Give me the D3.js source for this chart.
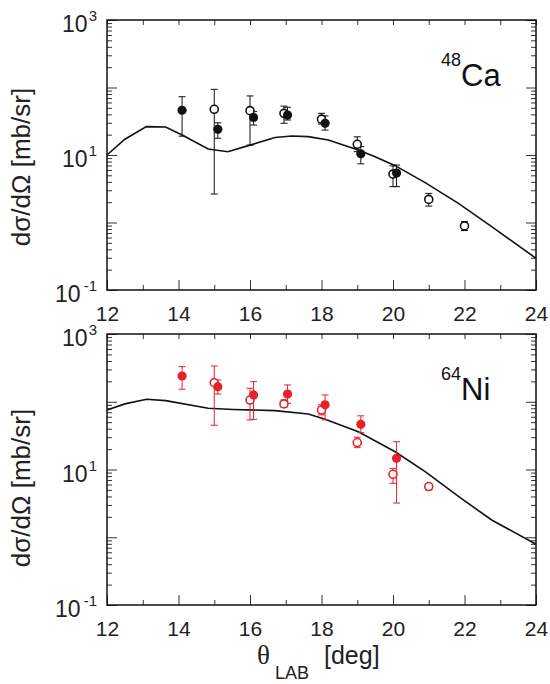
<!DOCTYPE html>
<html>
<head>
<meta charset="utf-8">
<script src="https://cdn.jsdelivr.net/npm/d3@7"></script>
<style>
  body { margin: 0; background: #fff; }
  svg { display: block; font-family: "Liberation Sans", Arial, Helvetica, sans-serif; }
</style>
</head>
<body>
<div class="chart"></div>
<script>
// x axis (theta_LAB, deg)
const thetaMajorTicks = [12, 14, 16, 18, 20, 22, 24];
const thetaMinorTicks = [13, 15, 17, 19, 21, 23];

// y axis (dsigma/dOmega, mb/sr)
const sigmaMajorTicks = [0.1, 1, 10, 100, 1000];
const sigmaLabels = [
    { value: 1000, exp: '3' },
    { value: 10, exp: '1' },
    { value: 0.1, exp: '-1' }
];

// points are [theta, value, errLow, errHigh]
const caFilled = [
    [14.1, 46, 19, 73],
    [15.1, 24, 17.7, 30],
    [16.1, 36, 27.8, 44],
    [17.05, 39, 33, 51],
    [18.1, 29.5, 23.4, 38],
    [19.1, 10.4, 7.4, 13.3],
    [20.1, 5.4, 3.4, 7.1]
];
const caOpen = [
    [15.0, 47.5, 2.64, 94],
    [16.0, 45.4, 14, 75],
    [16.95, 41.4, 29.5, 53],
    [18.0, 34, 28.8, 41.5],
    [19.0, 14.4, 11.2, 18.6],
    [20.0, 5.2, 3.4, 6.9],
    [21.0, 2.2, 1.75, 2.7],
    [22.0, 0.89, 0.76, 1.03]
];
const caCalc = [
    [12.0, 10.0], [12.5, 17.1], [13.1, 26.3], [13.64, 26], [14.1, 19.8],
    [14.83, 12.3], [15.38, 11.2], [16.0, 14], [16.7, 18.2], [17.17, 19.1],
    [17.63, 18.7], [18.19, 16.7], [19.03, 11.9], [19.5, 9.4], [20.06, 6.95],
    [20.9, 3.9], [21.83, 1.92], [22.76, 0.87], [24.0, 0.295]
];

const niFilled = [
    [14.1, 240, 153, 330],
    [15.1, 167, 130, 210],
    [16.1, 126, 55, 198],
    [17.05, 130, 95, 177],
    [18.1, 90, 54, 126],
    [19.1, 46.5, 35, 62],
    [20.1, 14.6, 3.2, 25.7]
];
const niOpen = [
    [15.0, 191, 45, 337],
    [16.0, 106, 54, 158],
    [16.95, 93, 83, 106],
    [18.0, 75.5, 64, 90],
    [19.0, 25, 21, 30],
    [20.0, 8.5, 6.25, 10.4],
    [21.0, 5.6, 5.0, 6.2]
];
const niCalc = [
    [12.0, 75.5], [12.5, 93], [13.11, 109], [13.64, 104], [14.83, 80],
    [15.53, 77], [16.7, 74], [17.63, 66], [18.1, 55], [19.03, 36],
    [20.06, 18.3], [20.9, 9.3], [21.83, 4.0], [22.76, 1.8], [24.0, 0.79]
];

const plotLeft = 107;
const plotRight = 536;
const red = '#e4222a';

const svg = d3.select('.chart')
    .append('svg')
    .attr('width', 550)
    .attr('height', 684);

drawPanel({ top: 20, bottom: 290, filled: caFilled, open: caOpen, calc: caCalc,
    color: '#111', mass: '48', element: 'Ca', titleY: 167 });
drawPanel({ top: 334, bottom: 605, filled: niFilled, open: niOpen, calc: niCalc,
    color: red, mass: '64', element: 'Ni', titleY: 488 });

// x axis title
svg.append('text')
    .attr('x', 257).attr('y', 664)
    .attr('font-family', '"Liberation Serif", "Times New Roman", serif')
    .attr('font-size', 27).attr('fill', '#222')
    .text('θ');
svg.append('text')
    .attr('x', 275).attr('y', 679)
    .attr('font-size', 18).attr('fill', '#222')
    .text('LAB');
svg.append('text')
    .attr('x', 324).attr('y', 664)
    .attr('font-size', 25).attr('fill', '#222')
    .text('[deg]');

function drawPanel(panel) {
    const x = d3.scaleLinear().domain([12, 24]).range([plotLeft, plotRight]);
    const y = d3.scaleLog().domain([0.1, 1000]).range([panel.bottom, panel.top]);
    const g = svg.append('g');

    const isMajor = v => sigmaMajorTicks.some(m => Math.abs(m - v) / m < 1e-6);
    const sigmaMinorTicks = y.ticks().filter(v => !isMajor(v));

    const axes = g.append('g').attr('class', 'axes');

    axes.append('g')
        .attr('transform', `translate(0,${panel.bottom})`)
        .call(d3.axisBottom(x).tickValues(thetaMajorTicks).tickSizeInner(-10)
            .tickSizeOuter(0).tickPadding(16).tickFormat(d3.format('d')));
    axes.append('g')
        .attr('transform', `translate(0,${panel.bottom})`)
        .call(d3.axisBottom(x).tickValues(thetaMinorTicks).tickSizeInner(-5)
            .tickSizeOuter(0).tickFormat(''));
    axes.append('g')
        .attr('transform', `translate(0,${panel.top})`)
        .call(d3.axisTop(x).tickValues(thetaMajorTicks.concat(thetaMinorTicks))
            .tickSizeInner(-5).tickSizeOuter(0).tickFormat(''));

    [[d3.axisLeft, plotLeft], [d3.axisRight, plotRight]].forEach(([axisFn, pos]) => {
        axes.append('g')
            .attr('transform', `translate(${pos},0)`)
            .call(axisFn(y).tickValues(sigmaMajorTicks).tickSizeInner(-10)
                .tickSizeOuter(0).tickFormat(''));
        axes.append('g')
            .attr('transform', `translate(${pos},0)`)
            .call(axisFn(y).tickValues(sigmaMinorTicks).tickSizeInner(-5)
                .tickSizeOuter(0).tickFormat(''));
    });

    axes.selectAll('.domain').remove();
    axes.selectAll('.tick line').attr('stroke', '#333').attr('stroke-width', 1);
    axes.selectAll('g').attr('font-family', null).attr('font-size', null);
    axes.selectAll('.tick text').attr('font-size', 21).attr('fill', '#222');

    // y tick labels with exponents
    sigmaLabels.forEach(({ value, exp }) => {
        const label = g.append('text')
            .attr('x', plotLeft - 10)
            .attr('y', y(value) + 12)
            .attr('text-anchor', 'end')
            .attr('font-size', 23)
            .attr('fill', '#222')
            .text('10');
        label.append('tspan')
            .attr('dx', exp.length > 1 ? 3 : 1)
            .attr('dy', -11)
            .attr('font-size', 15)
            .text(exp);
    });

    // frame
    g.append('rect')
        .attr('x', plotLeft).attr('y', panel.top)
        .attr('width', plotRight - plotLeft).attr('height', panel.bottom - panel.top)
        .attr('fill', 'none').attr('stroke', '#111').attr('stroke-width', 1.5);

    // calculation
    const line = d3.line().x(d => x(d[0])).y(d => y(d[1]));
    g.append('path')
        .datum(panel.calc)
        .attr('d', line)
        .attr('fill', 'none')
        .attr('stroke', '#111')
        .attr('stroke-width', 1.6);

    // error bars
    const allPoints = panel.open.concat(panel.filled);
    const bars = g.append('g').attr('stroke', panel.color).attr('stroke-width', 1);
    allPoints.forEach(d => {
        const cx = x(d[0]);
        bars.append('line').attr('x1', cx).attr('x2', cx).attr('y1', y(d[2])).attr('y2', y(d[3]));
        [d[2], d[3]].forEach(v => {
            bars.append('line').attr('x1', cx - 3.5).attr('x2', cx + 3.5).attr('y1', y(v)).attr('y2', y(v));
        });
    });

    g.append('g').selectAll('circle')
        .data(panel.open)
        .enter()
        .append('circle')
        .attr('cx', d => x(d[0]))
        .attr('cy', d => y(d[1]))
        .attr('r', 4)
        .attr('fill', '#fff')
        .attr('stroke', panel.color)
        .attr('stroke-width', 1.6);

    g.append('g').selectAll('circle')
        .data(panel.filled)
        .enter()
        .append('circle')
        .attr('cx', d => x(d[0]))
        .attr('cy', d => y(d[1]))
        .attr('r', 4.6)
        .attr('fill', panel.color);

    // isotope label
    const iso = g.append('text')
        .attr('x', 441)
        .attr('y', panel.top + 66)
        .attr('fill', '#111');
    iso.append('tspan')
        .attr('font-size', 18)
        .attr('dy', -20)
        .text(panel.mass);
    iso.append('tspan')
        .attr('font-size', 31)
        .attr('dy', 20)
        .text(panel.element);

    // y axis title
    g.append('text')
        .attr('transform', `translate(30,${panel.titleY}) rotate(-90)`)
        .attr('text-anchor', 'middle')
        .attr('font-size', 26)
        .attr('fill', '#222')
        .text('dσ/dΩ [mb/sr]');
}
</script>
</body>
</html>
